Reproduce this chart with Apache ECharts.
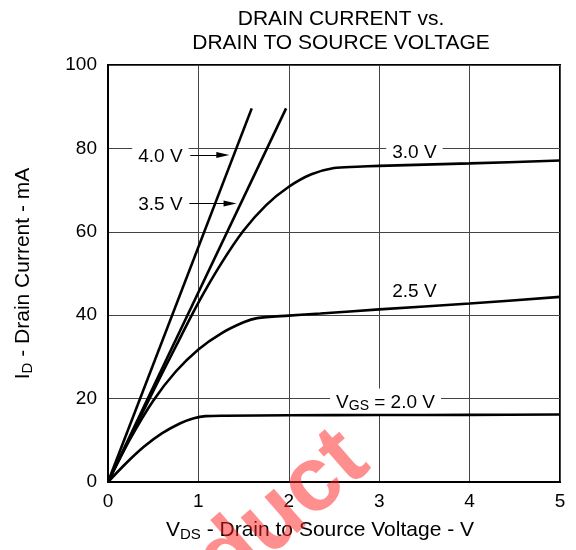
<!DOCTYPE html>
<html>
<head>
<meta charset="utf-8">
<script src="https://cdn.jsdelivr.net/npm/echarts@6/dist/echarts.min.js"></script>
<style>
html,body{margin:0;padding:0;background:#fff;}
#chart{width:576px;height:550px;}
</style>
</head>
<body>
<div id="chart"></div>
<script>
// ---- data ----
const titleLines = ['DRAIN CURRENT vs.', 'DRAIN TO SOURCE VOLTAGE'];
const xTicks = [0, 1, 2, 3, 4, 5];
const yTicks = [0, 20, 40, 60, 80, 100];
const seriesNames = ['VGS = 2.0 V', '2.5 V', '3.0 V', '3.5 V', '4.0 V'];
const vgs20 = [[0,0],[0.2,4.5],[0.4,8.5],[0.6,11.7],[0.8,14.1],[0.95,15.3],[1.08,15.8],[1.3,15.9],[2,16.0],[3,16.05],[4,16.1],[5,16.2]];
const vgs25 = [[0,0],[0.25,10.5],[0.5,19.5],[0.75,26.5],[1,31.8],[1.25,35.6],[1.5,38.3],[1.65,39.3],[2,39.9],[2.35,40.4],[3,41.4],[4,42.8],[5,44.4]];
const vgs30 = [[0,0],[0.25,10.9],[0.5,21.8],[0.75,32.5],[1,43],[1.25,52.3],[1.5,60.3],[1.75,66.4],[2,70.8],[2.25,73.8],[2.5,75.3],[2.75,75.6],[3,75.8],[4,76.4],[5,77.1]];
const vgs35 = [[0,0],[1.97,89.6]];
const vgs40 = [[0,0],[1.59,89.6]];
// label anchor points (data units) and arrows
const labelPoints = [
  {text:'4.0 V', coord:[0.58,78.0]},
  {text:'3.5 V', coord:[0.58,66.6]},
  {text:'3.0 V', coord:[3.39,79.0]},
  {text:'2.5 V', coord:[3.39,45.6]},
  {text:'{n|V}{s|GS}{n| = 2.0 V}', coord:[3.07,19.2]}
];
const arrows = [
  [[0.91,78.4],[1.27,78.4]],
  [[0.90,66.8],[1.35,66.8]]
];
const watermarkText = 'Product';

const FONT = 'Liberation Sans, Arial, Helvetica, sans-serif';
const chart = echarts.init(document.getElementById('chart'), null, {renderer:'canvas'});

function curve(name, data) {
  return {
    name: name, type: 'line', data: data, showSymbol: false,
    smooth: 0.3,
    lineStyle: {color: '#000', width: 2.6}, z: 5, silent: true
  };
}

const option = {
  backgroundColor: '#fff',
  animation: false,
  title: {
    text: titleLines.join('\n'),
    left: 336, top: 2, textAlign: 'center',
    textStyle: {fontFamily: FONT, fontSize: 21, fontWeight: 'normal', color: '#000', lineHeight: 24}
  },
  grid: {left: 108, right: 16, top: 65, bottom: 68, show: true, borderColor: '#000', borderWidth: 2, backgroundColor: 'transparent'},
  xAxis: {
    type: 'value', min: 0, max: 5, interval: 1,
    name: '{n|V}{s|DS}{n| - Drain to Source Voltage - V}',
    nameLocation: 'middle', nameGap: 36,
    nameTextStyle: {
      padding: [0, 28, 0, 0],
      rich: {
        n: {fontFamily: FONT, fontSize: 21, color: '#000', verticalAlign: 'bottom', lineHeight: 23},
        s: {fontFamily: FONT, fontSize: 15, color: '#000', verticalAlign: 'bottom', lineHeight: 23, padding:[0,0,-1,0]}
      }
    },
    axisLine: {show: true, lineStyle: {color: '#000', width: 2}},
    axisTick: {show: false},
    axisLabel: {fontFamily: FONT, fontSize: 19, color: '#000', margin: 10,
      formatter: v => xTicks.includes(v) ? String(v) : ''},
    splitLine: {show: true, lineStyle: {color: '#444', width: 1}}
  },
  yAxis: {
    type: 'value', min: 0, max: 100, interval: 20,
    name: '{n|I}{s|D}{n| - Drain Current - mA}',
    nameLocation: 'middle', nameGap: 74, nameRotate: 90,
    nameTextStyle: {
      rich: {
        n: {fontFamily: FONT, fontSize: 21, color: '#000', verticalAlign: 'bottom', lineHeight: 23},
        s: {fontFamily: FONT, fontSize: 15, color: '#000', verticalAlign: 'bottom', lineHeight: 23, padding:[0,0,-1,0]}
      }
    },
    axisLine: {show: true, lineStyle: {color: '#000', width: 2}},
    axisTick: {show: false},
    axisLabel: {fontFamily: FONT, fontSize: 19, color: '#000', margin: 11,
      formatter: v => yTicks.includes(v) ? String(v) : ''},
    splitLine: {show: true, lineStyle: {color: '#444', width: 1}}
  },
  series: [
    curve(seriesNames[0], vgs20),
    curve(seriesNames[1], vgs25),
    curve(seriesNames[2], vgs30),
    curve(seriesNames[3], vgs35),
    curve(seriesNames[4], vgs40),
    {
      type: 'line', data: [], silent: true, z: 6,
      markLine: {
        silent: true, animation: false,
        symbol: ['none', 'path://M5,0L10,13L0,13Z'],
        symbolSize: [6, 13],
        symbolKeepAspect: false,
        label: {show: false},
        lineStyle: {color: '#000', width: 1, type: 'solid'},
        data: arrows.map(a => [{coord: a[0]}, {coord: a[1]}])
      },
      markPoint: {
        silent: true, animation: false,
        symbol: 'rect', symbolSize: 1,
        itemStyle: {color: 'rgba(0,0,0,0)'},
        label: {
          show: true, position: 'inside',
          fontFamily: FONT, fontSize: 19, color: '#000',
          backgroundColor: '#fff', padding: [3, 6, 3, 6],
          rich: {
            n: {fontFamily: FONT, fontSize: 19, color: '#000', verticalAlign: 'bottom', lineHeight: 21},
            s: {fontFamily: FONT, fontSize: 14, color: '#000', verticalAlign: 'bottom', lineHeight: 21, padding:[0,0,-1,0]}
          },
          formatter: p => p.name
        },
        data: labelPoints.map(l => ({name: l.text, coord: l.coord, value: 0}))
      }
    }
  ],
  graphic: [{
    type: 'text', z: 100, silent: true,
    x: 386, y: 483, rotation: 41 * Math.PI / 180,
    style: {text: watermarkText, fill: 'rgba(255,30,30,0.5)', font: 'bold 92px ' + FONT, align: 'right', verticalAlign: 'bottom'}
  }]
};
chart.setOption(option);
</script>
</body>
</html>
